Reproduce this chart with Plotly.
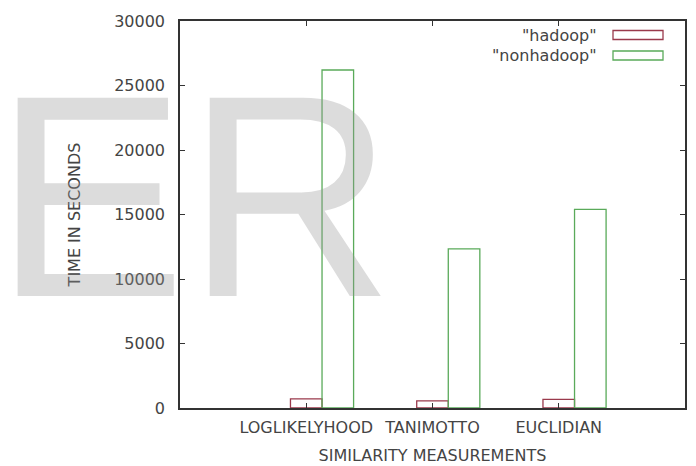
import plotly.graph_objects as go

# Similarity measurements and their run times (seconds)
measures = ["LOGLIKELYHOOD", "TANIMOTTO", "EUCLIDIAN"]
series_names = ['"hadoop"', '"nonhadoop"']
hadoop_times = [700, 560, 670]
nonhadoop_times = [26200, 12330, 15400]
y_ticks = [0, 5000, 10000, 15000, 20000, 25000, 30000]

colors = ["#9a3a4c", "#5aaa5a"]
text_color = "#444444"
font_family = "DejaVu Sans, Verdana, sans-serif"

W, H = 696, 466
L, R, T, B = 180, 11, 21, 58
plot_w = W - L - R
plot_h = H - T - B


def px_x(px):
    return (px - L) / plot_w


def px_y(py):
    return (H - B - py) / plot_h


fig = go.Figure()
for name, vals, col, off in zip(series_names, [hadoop_times, nonhadoop_times], colors, [-0.125, 0.125]):
    fig.add_trace(go.Bar(
        x=measures, y=vals, name=name,
        width=0.25, offset=off,
        marker=dict(color="rgba(0,0,0,0)", line=dict(color=col, width=1.3)),
        showlegend=False,
    ))

# key drawn on the right, text before sample box (gnuplot style)
shapes = []
annotations = []
key_rows = [35, 55.5]
for name, col, yc in zip(series_names, colors, key_rows):
    annotations.append(dict(
        text=name, x=px_x(599), y=px_y(yc), xref="paper", yref="paper",
        xanchor="right", yanchor="middle", showarrow=False,
        font=dict(family=font_family, size=16, color=text_color),
    ))
    shapes.append(dict(
        type="rect", xref="paper", yref="paper",
        x0=px_x(613), x1=px_x(663), y0=px_y(yc - 4.5), y1=px_y(yc + 4.5),
        line=dict(color=col, width=1.3), fillcolor="rgba(0,0,0,0)",
    ))

# large translucent "ER" watermark
annotations.append(dict(
    text="ER", x=px_x(-8), y=px_y(196), xref="paper", yref="paper",
    xanchor="left", yanchor="middle", showarrow=False,
    font=dict(family="Liberation Sans, Arial, sans-serif", size=288,
              color="rgba(150,150,150,0.33)"),
))

fig.update_layout(
    width=W, height=H,
    margin=dict(l=L, r=R, t=T, b=B, autoexpand=False),
    paper_bgcolor="white", plot_bgcolor="white",
    barmode="overlay",
    font=dict(family=font_family, size=16, color=text_color),
    shapes=shapes, annotations=annotations,
    xaxis=dict(
        type="category", range=[-1, 3], automargin=False,
        showline=True, linecolor="#333333", linewidth=1.5, mirror="ticks",
        ticks="inside", ticklen=5, tickcolor="#333333",
        showgrid=False, zeroline=False,
        ticklabelstandoff=4,
        title=dict(text="SIMILARITY MEASUREMENTS", standoff=14,
                   font=dict(size=16, color=text_color)),
        tickfont=dict(size=16, color=text_color),
    ),
    yaxis=dict(
        range=[0, 30000], tickvals=y_ticks, ticktext=[str(v) for v in y_ticks],
        automargin=False,
        showline=True, linecolor="#333333", linewidth=1.5, mirror="ticks",
        ticks="inside", ticklen=5, tickcolor="#333333",
        showgrid=False, zeroline=False,
        title=dict(text="TIME IN SECONDS", standoff=30,
                   font=dict(size=16, color=text_color)),
        tickfont=dict(size=16, color=text_color),
        ticklabelstandoff=10,
    ),
)

fig.write_html("out.html")
